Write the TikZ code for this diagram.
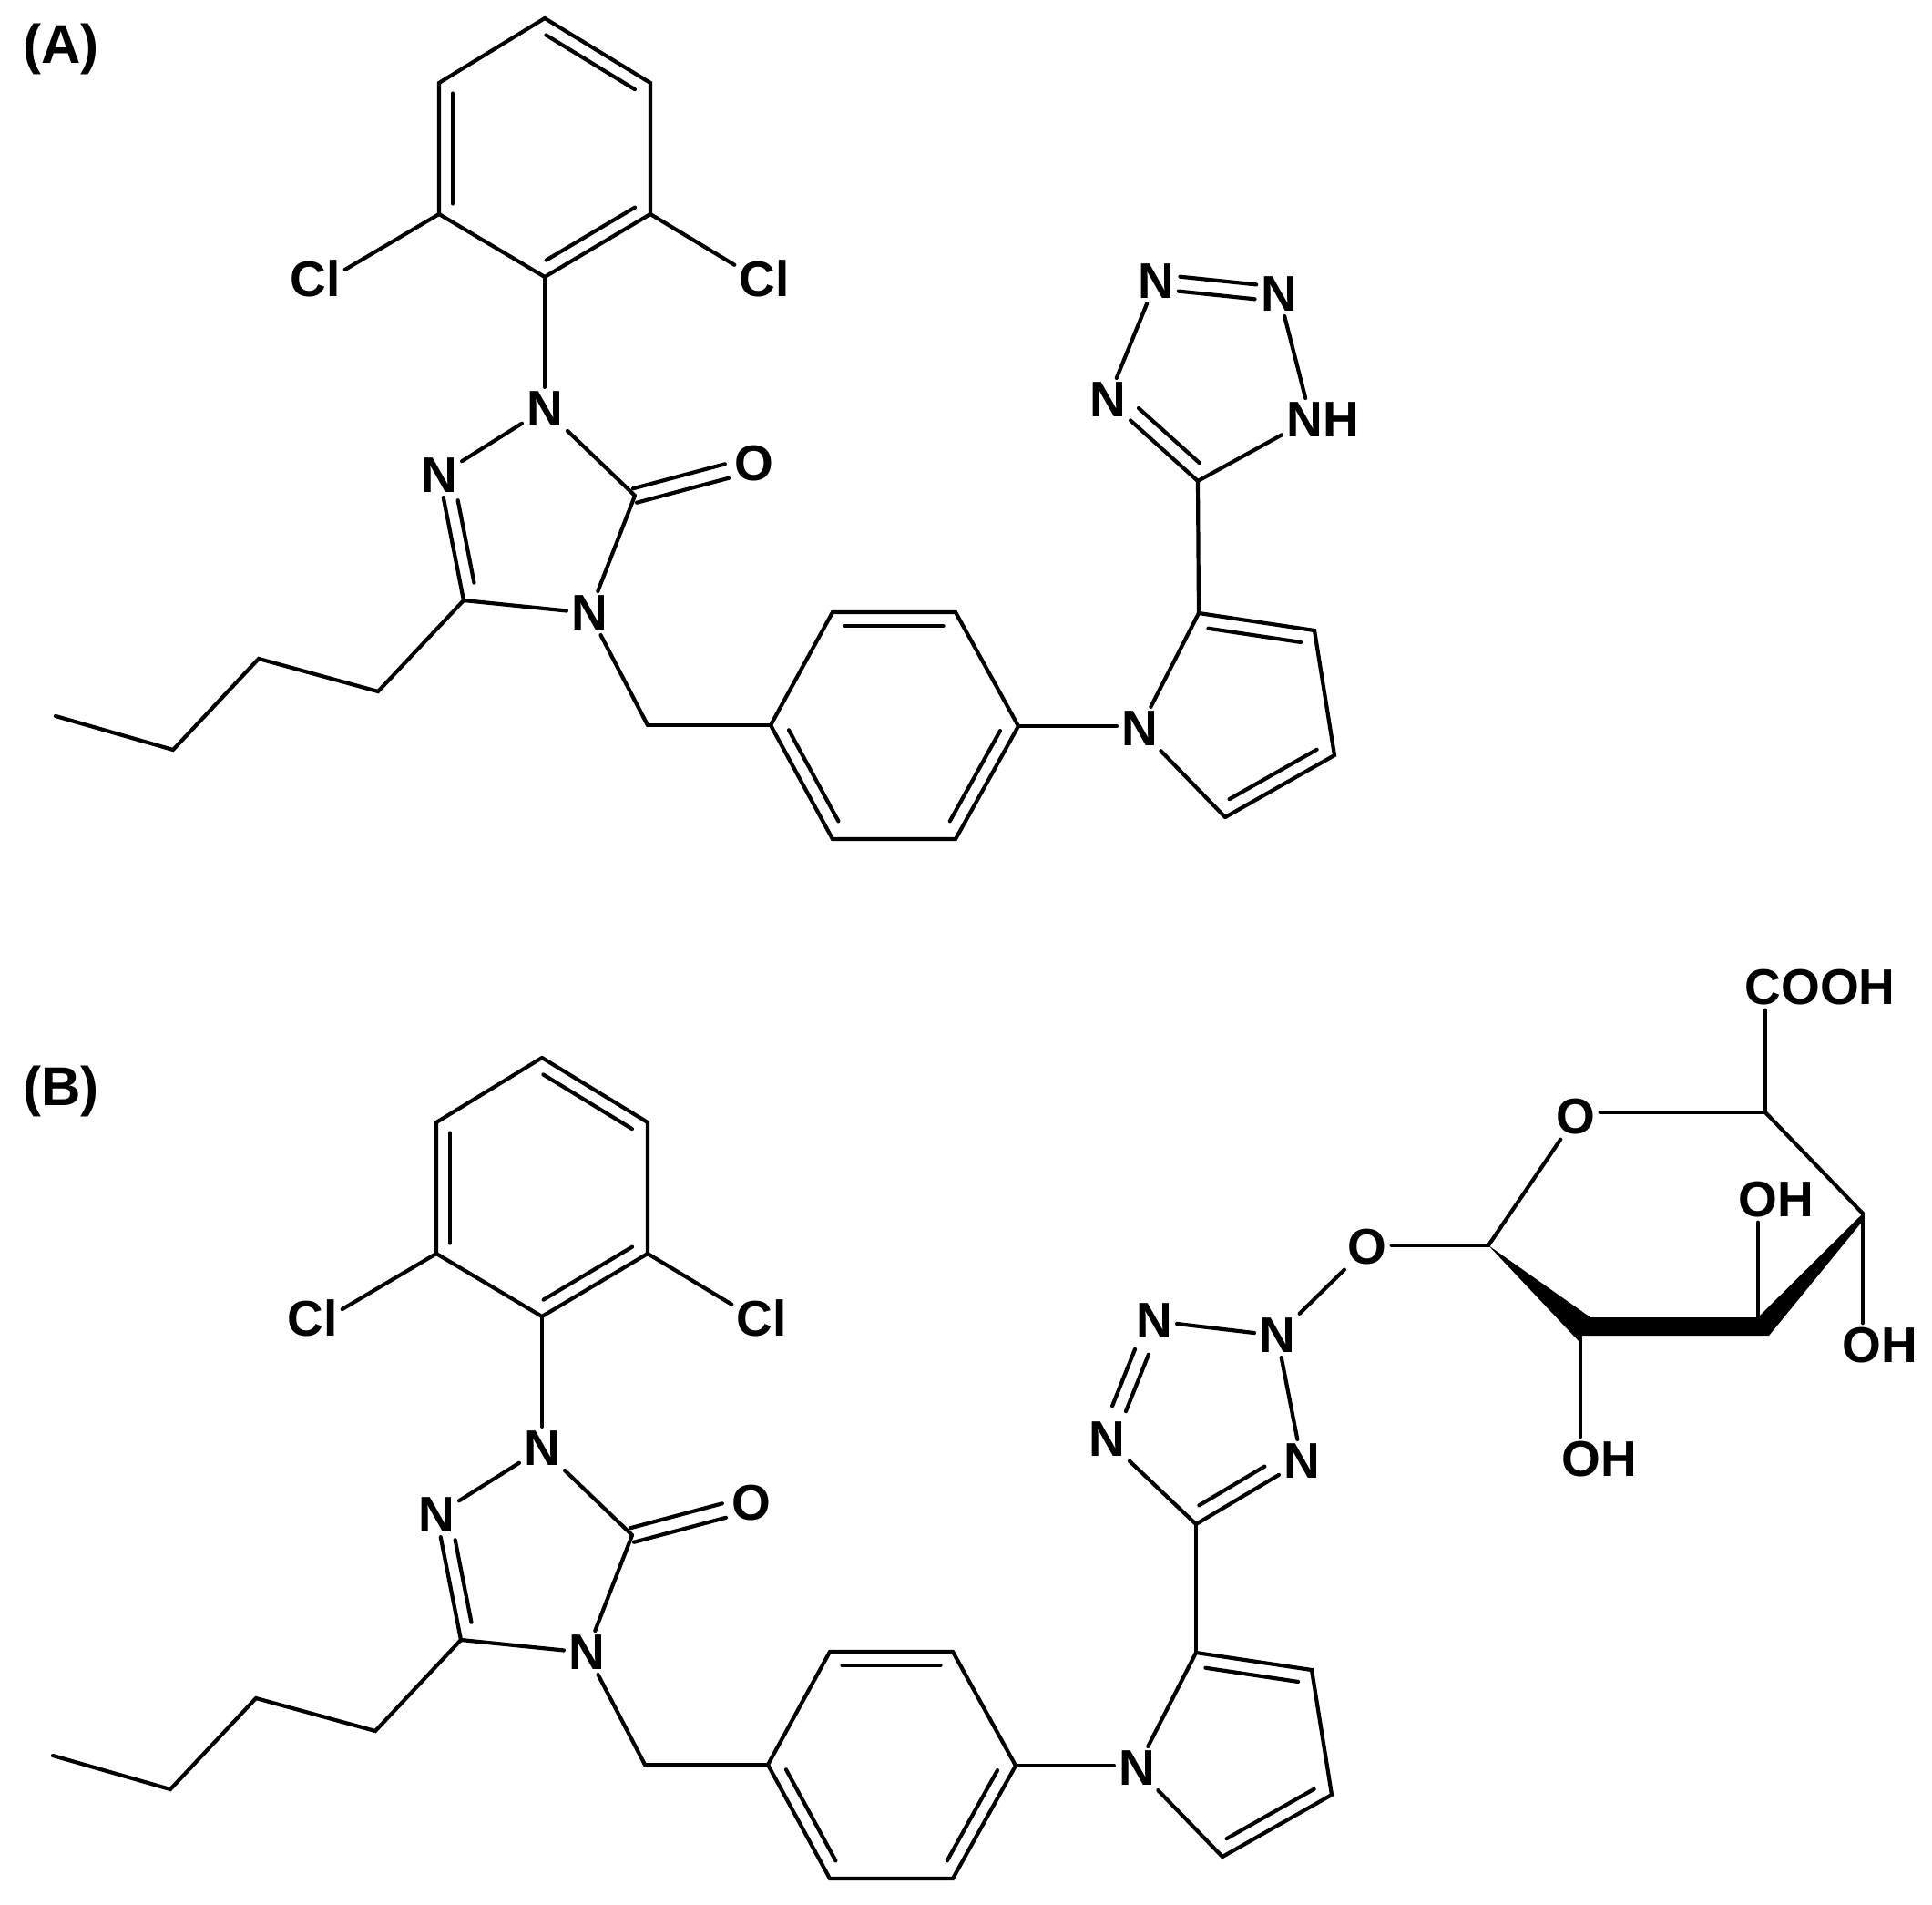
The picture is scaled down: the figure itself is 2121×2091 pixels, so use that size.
\documentclass[tikz,border=0pt]{standalone}
\usepackage{fontspec}
\setmainfont{Liberation Sans}
\usetikzlibrary{calc}
\tikzset{
  atom/.style={inner sep=5pt, font=\fontsize{55}{60}\selectfont\bfseries},
  bond/.style={line width=4.2pt, line cap=round},
  tag/.style={inner sep=0pt, font=\fontsize{60}{65}\selectfont\bfseries}
}
% inner line of a double bond: from, to, cut at from, cut at to, offset
\newcommand{\inbond}[5]{\draw[bond] ($(#1)!#3!(#2)!#5!90:(#2)$) -- ($(#2)!#4!(#1)!-#5!90:(#1)$);}
% dichlorophenyl, triazolone, butyl, benzyl and pyrrole
\newcommand{\corepart}{
   \coordinate (ph1) at (598,20);
   \coordinate (ph2) at (714,91);
   \coordinate (ph3) at (714,235);
   \coordinate (ph4) at (598,304);
   \coordinate (ph5) at (482,235);
   \coordinate (ph6) at (482,91);
   \node[atom] (cll) at (346,306) {Cl};
   \node[atom] (clr) at (839,306) {Cl};
   \node[atom] (n1) at (598,449) {N};
   \node[atom] (n2) at (482,522) {N};
   \coordinate (co) at (697,544);
   \node[atom] (ox) at (828,509) {O};
   \node[atom] (n4) at (647,673) {N};
   \coordinate (c5) at (509,659);
   \coordinate (bu1) at (415,759);
   \coordinate (bu2) at (284,723);
   \coordinate (bu3) at (190,823);
   \coordinate (bu4) at (61,786);
   \coordinate (ch2) at (711,796);
   \coordinate (bz1) at (846,796);
   \coordinate (bz2) at (914,672);
   \coordinate (bz3) at (1049,672);
   \coordinate (bz4) at (1118,797);
   \coordinate (bz5) at (1049,921);
   \coordinate (bz6) at (914,921);
   \node[atom] (pn) at (1251,800) {N};
   \coordinate (py2) at (1316,673);
   \coordinate (py3) at (1443,692);
   \coordinate (py4) at (1465,829);
   \coordinate (py5) at (1345,897);
   \draw[bond] (ph1) -- (ph2) -- (ph3) -- (ph4) -- (ph5) -- (ph6) -- (ph1);
   \inbond{ph1}{ph2}{.08}{.08}{-15pt}
   \inbond{ph3}{ph4}{.08}{.08}{-15pt}
   \inbond{ph5}{ph6}{.08}{.08}{-15pt}
   \draw[bond] (ph5) -- (cll.17);
   \draw[bond] (ph3) -- (clr.155);
   \draw[bond] (ph4) -- (n1);
   \draw[bond] (n1) -- (n2);
   \draw[bond] (n2) -- (c5);
   \inbond{n2}{c5}{.22}{.12}{15pt}
   \draw[bond] (c5) -- (n4);
   \draw[bond] (n1) -- (co);
   \draw[bond] (co) -- (n4);
   \inbond{co}{ox}{0}{.23}{8pt}
   \inbond{co}{ox}{0}{.23}{-8pt}
   \draw[bond] (c5) -- (bu1) -- (bu2) -- (bu3) -- (bu4);
   \draw[bond] (n4) -- (ch2);
   \draw[bond] (ch2) -- (bz1);
   \draw[bond] (bz1) -- (bz2) -- (bz3) -- (bz4) -- (bz5) -- (bz6) -- (bz1);
   \inbond{bz2}{bz3}{.1}{.1}{-15pt}
   \inbond{bz1}{bz6}{.1}{.1}{15pt}
   \inbond{bz5}{bz4}{.1}{.1}{15pt}
   \draw[bond] (bz4) -- (bz4 -| pn.west);
   \draw[bond] (pn) -- (py2);
   \draw[bond] (py2) -- (py3) -- (py4) -- (py5);
   \draw[bond] (py5) -- (pn);
   \inbond{py2}{py3}{.1}{.1}{-15pt}
   \inbond{py4}{py5}{.1}{.1}{-15pt}
}

\begin{document}
\begin{tikzpicture}[x=1pt, y=-1pt]
   \useasboundingbox (0,0) rectangle (2121,2091);
   \node[tag] (taga) at (67,54) {(A)};
   \node[tag] (tagb) at (67,1198) {(B)};
   \begin{scope}[name prefix=a]
     \corepart
   \end{scope}
   \begin{scope}[shift={(-3,1141)}, name prefix=b]
     \corepart
   \end{scope}
   % tetrazole of A
   \coordinate (tc) at (1315,528);
   \node[atom] (ta) at (1216,439) {N};
   \node[atom] (tb) at (1269,309) {N};
   \node[atom] (td) at (1404,323) {N};
   \node[atom] (te) at (1452,461) {NH};
   \draw[bond] (apy2) -- (tc);
   \draw[bond] (tc) -- (ta);
   \inbond{ta}{tc}{.235}{.09}{16pt}
   \draw[bond] (ta) -- (tb);
   \inbond{tb}{td}{.19}{.19}{8pt}
   \inbond{tb}{td}{.19}{.19}{-8pt}
   \draw[bond] (td) -- (te.128);
   \draw[bond] (tc) -- (te.200);
   % tetrazole of B
   \coordinate (uc) at (1313,1673);
   \node[atom] (ua) at (1215,1580) {N};
   \node[atom] (ub) at (1267,1450) {N};
   \node[atom] (ud) at (1402,1466) {N};
   \node[atom] (ue) at (1429,1604) {N};
   \draw[bond] (bpy2) -- (uc);
   \draw[bond] (uc) -- (ua);
   \draw[bond] (uc) -- (ue);
   \inbond{uc}{ue}{.1}{.28}{16pt}
   \inbond{ua}{ub}{.26}{.26}{8pt}
   \inbond{ua}{ub}{.26}{.26}{-8pt}
   \draw[bond] (ub) -- (ud);
   \draw[bond] (ud) -- (ue);
   % glucuronide
   \node[atom] (ol) at (1501,1369) {O};
   \node[atom] (or) at (1730,1226) {O};
   \coordinate (g1) at (1634,1367);
   \coordinate (g2) at (1735,1466);
   \coordinate (g3) at (1930,1452);
   \coordinate (g4) at (2045,1332);
   \coordinate (g5) at (1938,1221);
   \node[atom] (cooh) at (1998,1084) {COOH};
   \node[atom] (oh2) at (1756,1602) {OH};
   \node[atom] (oh3) at (1950,1317) {OH};
   \node[atom] (oh4) at (2064,1477) {OH};
   \draw[bond] (ud) -- (ol);
   \draw[bond] (g1) -- (g1 -| ol.east);
   \draw[bond] (g1) -- (or);
   \draw[bond] (g5) -- (g5 -| or.east);
   \draw[bond] (g5) -- (g4);
   \draw[bond] (g5) -- (g5 |- cooh.south);
   \draw[bond] (g2) -- (g2 |- oh2.north);
   \draw[bond] (g3) -- (g3 |- oh3.south);
   \draw[bond] (g4) -- (g4 |- oh4.north);
   \fill (g1) -- (1746,1446) -- (1930,1446) -- (g4) -- (2045,1340) -- (1942,1466) -- (1735,1466) -- (1735,1474) -- cycle;
\end{tikzpicture}
\end{document}
